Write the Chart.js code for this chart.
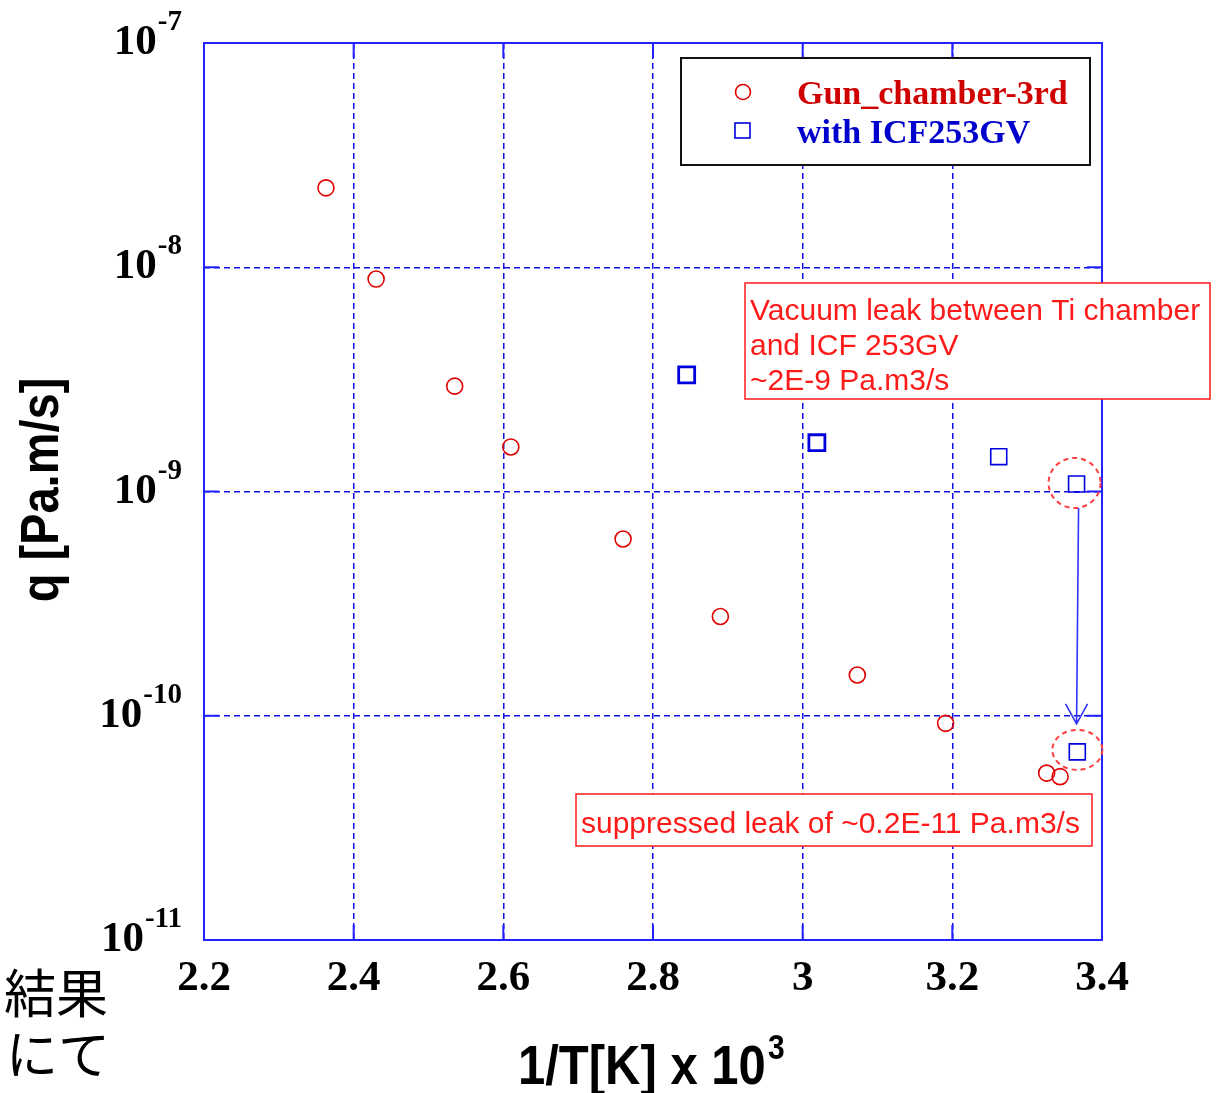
<!DOCTYPE html>
<html>
<head>
<meta charset="utf-8">
<script src="https://cdn.jsdelivr.net/npm/chart.js@4"></script>
<style>
  body { margin: 0; background: #fff; }
  canvas { display: block; }
</style>
</head>
<body>
<canvas id="leakChart" width="1222" height="1093"></canvas>
<script>
// 1/T[K] x 10^3  vs  q [Pa.m/s]
var gunX = [2.363, 2.430, 2.535, 2.610, 2.760, 2.890, 3.073, 3.191, 3.326, 3.344];
var gunQ = [2.26e-8, 8.86e-9, 2.95e-9, 1.58e-9, 6.14e-10, 2.77e-10, 1.52e-10, 9.25e-11, 5.55e-11, 5.35e-11];
var icfX = [2.845, 3.019, 3.262, 3.366, 3.367];
var icfQ = [3.31e-9, 1.65e-9, 1.43e-9, 1.08e-9, 6.9e-11];

var xTicks = [2.2, 2.4, 2.6, 2.8, 3.0, 3.2, 3.4];
var xTickLabels = ['2.2', '2.4', '2.6', '2.8', '3', '3.2', '3.4'];
var yTicks = [1e-11, 1e-10, 1e-9, 1e-8, 1e-7];
var yTickExps = ['-11', '-10', '-9', '-8', '-7'];

var seriesNames = ['Gun_chamber-3rd', 'with ICF253GV'];
var noteLeak = ['Vacuum leak between Ti chamber', 'and ICF 253GV', '~2E-9 Pa.m3/s'];
var noteFixed = 'suppressed leak of ~0.2E-11 Pa.m3/s';

var RED = '#e00000', BLUE = '#0000dd', GRID = '#1010e8', FRAME = '#2222ff', NOTE = '#ff1a1a';
var SERIF = '"Liberation Serif", "Times New Roman", serif';
var SANS = '"Liberation Sans", Arial, sans-serif';

function pts(xs, ys) {
    return xs.map(function (x, i) { return { x: x, y: ys[i] }; });
}

// stretched text, MATLAB export looks a bit tall
function tallText(ctx, txt, x, y, sy) {
    ctx.save();
    ctx.translate(x, y);
    ctx.scale(1, sy);
    ctx.fillText(txt, 0, 0);
    ctx.restore();
}

var decor = {
    id: 'decor',
    afterDraw: function (chart) {
        var ctx = chart.ctx, a = chart.chartArea;
        var xs = chart.scales.x, ys = chart.scales.y;
        ctx.save();

        // axes box + inward ticks
        ctx.setLineDash([]);
        ctx.strokeStyle = FRAME;
        ctx.lineWidth = 2;
        ctx.strokeRect(a.left, a.top, a.right - a.left, a.bottom - a.top);
        ctx.beginPath();
        xTicks.forEach(function (v) {
            var px = xs.getPixelForValue(v);
            ctx.moveTo(px, a.bottom); ctx.lineTo(px, a.bottom - 15);
            ctx.moveTo(px, a.top); ctx.lineTo(px, a.top + 15);
        });
        yTicks.forEach(function (v) {
            var py = ys.getPixelForValue(v);
            ctx.moveTo(a.left, py); ctx.lineTo(a.left + 15, py);
            ctx.moveTo(a.right, py); ctx.lineTo(a.right - 15, py);
        });
        ctx.stroke();

        // tick labels
        ctx.fillStyle = '#000';
        ctx.font = 'bold 43px ' + SERIF;
        ctx.textAlign = 'center';
        ctx.textBaseline = 'alphabetic';
        xTicks.forEach(function (v, i) {
            ctx.fillText(xTickLabels[i], xs.getPixelForValue(v), 990);
        });
        yTicks.forEach(function (v, i) {
            var py = ys.getPixelForValue(v);
            var right = a.left - 22;
            ctx.textAlign = 'right';
            ctx.font = 'bold 29px ' + SERIF;
            var w = ctx.measureText(yTickExps[i]).width;
            ctx.fillText(yTickExps[i], right, py - 13);
            ctx.font = 'bold 43px ' + SERIF;
            ctx.fillText('10', right - w - 1, py + 11);
        });

        // axis titles
        ctx.font = 'bold 49px ' + SANS;
        ctx.textAlign = 'left';
        tallText(ctx, '1/T[K] x 10', 518, 1084, 1.15);
        ctx.font = 'bold 30px ' + SANS;
        tallText(ctx, '3', 768, 1059, 1.15);

        ctx.save();
        ctx.translate(58, 490);
        ctx.rotate(-Math.PI / 2);
        ctx.font = 'bold 47px ' + SANS;
        ctx.textAlign = 'center';
        tallText(ctx, 'q [Pa.m/s]', 0, 0, 1.15);
        ctx.restore();

        // legend
        ctx.fillStyle = '#fff';
        ctx.fillRect(681, 58, 409, 107);
        ctx.strokeStyle = '#111';
        ctx.lineWidth = 2;
        ctx.strokeRect(681, 58, 409, 107);
        ctx.lineWidth = 1.6;
        ctx.strokeStyle = RED;
        ctx.beginPath();
        ctx.arc(743, 92, 7.5, 0, Math.PI * 2);
        ctx.stroke();
        ctx.strokeStyle = BLUE;
        ctx.strokeRect(735, 123, 15, 15);
        ctx.font = 'bold 34px ' + SERIF;
        ctx.textAlign = 'left';
        ctx.fillStyle = '#d00000';
        ctx.fillText(seriesNames[0], 797, 104);
        ctx.fillStyle = '#0000cc';
        ctx.fillText(seriesNames[1], 797, 143);

        // highlight rings + arrow on the last ICF point pair
        var before = chart.getDatasetMeta(1).data[3];
        var after = chart.getDatasetMeta(1).data[4];
        ctx.strokeStyle = '#ff4040';
        ctx.lineWidth = 2;
        ctx.setLineDash([5, 4]);
        ctx.beginPath();
        ctx.ellipse(before.x - 2, before.y - 1, 26, 25, 0, 0, Math.PI * 2);
        ctx.stroke();
        ctx.beginPath();
        ctx.ellipse(after.x, after.y - 2, 25, 20, 0, 0, Math.PI * 2);
        ctx.stroke();
        ctx.setLineDash([]);

        var ax = before.x, y0 = before.y + 24, y1 = after.y - 28;
        ctx.strokeStyle = '#3333ff';
        ctx.lineWidth = 1.6;
        ctx.beginPath();
        ctx.moveTo(ax + 2, y0);
        ctx.lineTo(ax, y1);
        ctx.moveTo(ax - 11, y1 - 20);
        ctx.lineTo(ax, y1);
        ctx.lineTo(ax + 11, y1 - 20);
        ctx.stroke();

        // text boxes
        ctx.lineWidth = 1.5;
        ctx.strokeStyle = NOTE;
        ctx.fillStyle = '#fff';
        ctx.fillRect(745, 283, 465, 116);
        ctx.strokeRect(745, 283, 465, 116);
        ctx.fillRect(576, 794, 516, 52);
        ctx.strokeRect(576, 794, 516, 52);
        ctx.fillStyle = NOTE;
        ctx.font = '30px ' + SANS;
        noteLeak.forEach(function (line, i) {
            ctx.fillText(line, 750, 320 + i * 35);
        });
        ctx.fillText(noteFixed, 581, 833);

        // leftovers of the slide text
        ctx.fillStyle = '#000';
        ctx.font = '52px "Noto Sans CJK JP"';
        ctx.fillText('結果', 4, 1013);
        ctx.fillText('にて', 6, 1074);

        ctx.restore();
    }
};

var ctx = document.getElementById('leakChart').getContext('2d');
var leakChart = new Chart(ctx, {
    type: 'scatter',
    data: {
        datasets: [{
            label: seriesNames[0],
            data: pts(gunX, gunQ),
            pointStyle: 'circle',
            pointRadius: 8,
            pointBorderWidth: 1.6,
            borderColor: RED,
            backgroundColor: 'rgba(0,0,0,0)'
        }, {
            label: seriesNames[1],
            data: pts(icfX, icfQ),
            pointStyle: 'rect',
            pointRadius: 11.3,
            pointBorderWidth: [2.8, 2.8, 1.6, 1.6, 1.6],
            borderColor: BLUE,
            backgroundColor: 'rgba(0,0,0,0)'
        }]
    },
    options: {
        responsive: false,
        animation: false,
        devicePixelRatio: 1,
        layout: {
            padding: { left: 204, top: 43, right: 120, bottom: 153 }
        },
        scales: {
            x: {
                type: 'linear',
                min: 2.2,
                max: 3.4,
                afterBuildTicks: function (s) { s.ticks = xTicks.map(function (v) { return { value: v }; }); },
                afterFit: function (s) { s.height = 0; },
                ticks: { display: false },
                grid: { color: GRID, lineWidth: 1.5, drawTicks: false },
                border: { display: false, dash: [6, 4] }
            },
            y: {
                type: 'logarithmic',
                min: 1e-11,
                max: 1e-7,
                afterBuildTicks: function (s) { s.ticks = yTicks.map(function (v) { return { value: v }; }); },
                afterFit: function (s) { s.width = 0; },
                ticks: { display: false },
                grid: { color: GRID, lineWidth: 1.5, drawTicks: false },
                border: { display: false, dash: [6, 4] }
            }
        },
        plugins: {
            legend: { display: false },
            tooltip: { enabled: false }
        }
    },
    plugins: [decor]
});
</script>
</body>
</html>
